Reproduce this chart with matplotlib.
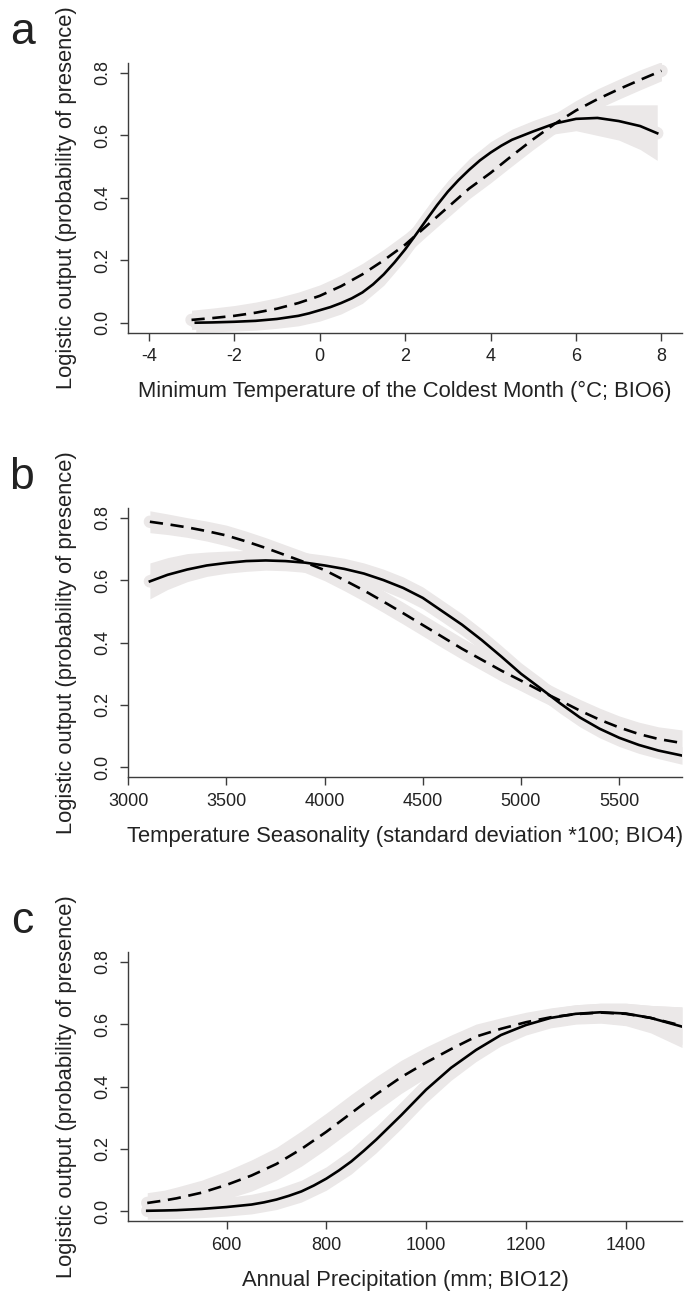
import matplotlib
matplotlib.use("Agg")
import matplotlib.pyplot as plt

plt.rcParams["font.family"] = ["Liberation Sans", "DejaVu Sans"]

# --------------------- DATA ---------------------

ylabel = "Logistic output (probability of presence)"
yticks = [0.0, 0.2, 0.4, 0.6, 0.8]
ytick_labels = ["0.0", "0.2", "0.4", "0.6", "0.8"]

# panel a : BIO6
a_xlabel = "Minimum Temperature of the Coldest Month (°C; BIO6)"
a_xticks = [-4, -2, 0, 2, 4, 6, 8]
a_x_solid = [-2.9, -2.5, -2, -1.5, -1, -0.5, -0.25, 0, 0.25, 0.5, 0.75, 1, 1.25,
             1.5, 1.75, 2, 2.25, 2.5, 2.75, 3, 3.25, 3.5, 3.75, 4, 4.25, 4.5,
             5, 5.5, 6, 6.5, 7, 7.5, 7.9]
a_y_solid = [0.0, 0.001, 0.003, 0.006, 0.012, 0.022, 0.03, 0.04, 0.05, 0.063,
             0.078, 0.097, 0.123, 0.155, 0.193, 0.235, 0.282, 0.33, 0.377, 0.42,
             0.457, 0.49, 0.52, 0.545, 0.567, 0.586, 0.613, 0.638, 0.653, 0.656,
             0.646, 0.63, 0.607]
a_x_dash = [-3, -2.5, -2, -1.5, -1, -0.5, 0, 0.5, 1, 1.5, 2, 2.5, 3, 3.5,
            4, 4.5, 5, 5.5, 6, 6.5, 7, 7.5, 8]
a_y_dash = [0.009, 0.015, 0.022, 0.032, 0.045, 0.063, 0.086, 0.117, 0.155, 0.2,
            0.25, 0.31, 0.37, 0.43, 0.48, 0.535, 0.588, 0.637, 0.68, 0.716,
            0.748, 0.778, 0.807]
a_band_x_solid = [-2.9, -2.5, -2, -1.5, -1, -0.5, 0, 0.5, 1, 1.5, 2, 2.5, 3,
                  3.5, 4, 4.5, 5, 5.5, 6, 6.5, 7, 7.5, 7.9]
a_lo_solid = [-0.03, -0.029, -0.027, -0.024, -0.018, -0.01, 0.005, 0.028, 0.062,
              0.12, 0.2, 0.295, 0.385, 0.455, 0.51, 0.55, 0.58, 0.605, 0.615,
              0.6, 0.585, 0.555, 0.52]
a_hi_solid = [0.03, 0.031, 0.033, 0.038, 0.045, 0.057, 0.077, 0.1, 0.134, 0.192,
              0.272, 0.365, 0.455, 0.525, 0.58, 0.62, 0.648, 0.672, 0.685, 0.695,
              0.698, 0.698, 0.698]
a_lo_dash = [-0.022, -0.017, -0.01, 0.0, 0.012, 0.03, 0.052, 0.083, 0.12, 0.165,
             0.215, 0.277, 0.337, 0.397, 0.448, 0.502, 0.555, 0.605, 0.648,
             0.685, 0.716, 0.746, 0.775]
a_hi_dash = [0.04, 0.047, 0.055, 0.066, 0.08, 0.098, 0.121, 0.152, 0.19, 0.235,
             0.285, 0.343, 0.403, 0.463, 0.512, 0.568, 0.62, 0.67, 0.712, 0.749,
             0.78, 0.81, 0.836]

# panel b : BIO4
b_xlabel = "Temperature Seasonality (standard deviation *100; BIO4)"
b_xticks = [3000, 3500, 4000, 4500, 5000, 5500]
b_x = [3110, 3200, 3300, 3400, 3500, 3600, 3700, 3800, 3900, 4000, 4100, 4200,
       4300, 4400, 4500, 4600, 4700, 4800, 4900, 5000, 5100, 5200, 5300, 5400,
       5500, 5600, 5700, 5820]
b_y_solid = [0.596, 0.617, 0.634, 0.647, 0.655, 0.661, 0.663, 0.661, 0.656,
             0.647, 0.636, 0.621, 0.6, 0.575, 0.543, 0.5, 0.457, 0.408, 0.355,
             0.3, 0.253, 0.205, 0.16, 0.124, 0.095, 0.072, 0.054, 0.038]
b_lo_solid = [0.54, 0.57, 0.595, 0.612, 0.622, 0.628, 0.632, 0.63, 0.625, 0.615,
              0.603, 0.588, 0.566, 0.54, 0.508, 0.466, 0.423, 0.374, 0.321,
              0.267, 0.22, 0.173, 0.13, 0.095, 0.067, 0.045, 0.028, 0.01]
b_hi_solid = [0.655, 0.672, 0.685, 0.69, 0.693, 0.695, 0.695, 0.693, 0.688,
              0.68, 0.67, 0.655, 0.635, 0.61, 0.578, 0.535, 0.492, 0.443, 0.39,
              0.335, 0.288, 0.238, 0.19, 0.153, 0.123, 0.1, 0.082, 0.066]
b_y_dash = [0.787, 0.779, 0.769, 0.757, 0.743, 0.724, 0.703, 0.68, 0.657,
            0.632, 0.6, 0.567, 0.531, 0.494, 0.456, 0.418, 0.38, 0.345, 0.31,
            0.278, 0.245, 0.214, 0.182, 0.153, 0.128, 0.107, 0.091, 0.078]
b_lo_dash = [0.752, 0.746, 0.737, 0.725, 0.71, 0.692, 0.67, 0.647, 0.624, 0.598,
             0.566, 0.532, 0.496, 0.459, 0.421, 0.383, 0.346, 0.311, 0.276,
             0.245, 0.213, 0.183, 0.151, 0.12, 0.093, 0.07, 0.052, 0.036]
b_hi_dash = [0.822, 0.812, 0.8, 0.789, 0.776, 0.757, 0.736, 0.713, 0.69, 0.666,
             0.634, 0.602, 0.566, 0.529, 0.491, 0.453, 0.415, 0.38, 0.345,
             0.312, 0.28, 0.248, 0.218, 0.19, 0.165, 0.145, 0.13, 0.12]

# panel c : BIO12
c_xlabel = "Annual Precipitation (mm; BIO12)"
c_xticks = [600, 800, 1000, 1200, 1400]
c_x = [441, 475, 500, 550, 600, 650, 700, 750, 800, 850, 900, 950, 1000, 1050,
       1100, 1150, 1200, 1250, 1300, 1350, 1400, 1450, 1513]
c_x_solid = [441, 475, 500, 550, 600, 650, 675, 700, 725, 750, 775, 800, 825,
             850, 875, 900, 950, 1000, 1050, 1100, 1150, 1200, 1250, 1300, 1350,
             1400, 1450, 1513]
c_y_solid = [0.002, 0.003, 0.004, 0.008, 0.014, 0.022, 0.029, 0.038, 0.05,
             0.064, 0.083, 0.105, 0.131, 0.16, 0.194, 0.23, 0.308, 0.39, 0.46,
             0.517, 0.565, 0.597, 0.62, 0.633, 0.638, 0.634, 0.62, 0.592]
c_lo_solid = [-0.025, -0.024, -0.023, -0.02, -0.015, -0.008, 0.006, 0.03, 0.068,
              0.12, 0.188, 0.265, 0.348, 0.42, 0.48, 0.53, 0.565, 0.588, 0.6,
              0.603, 0.595, 0.572, 0.525]
c_hi_solid = [0.03, 0.031, 0.032, 0.037, 0.045, 0.055, 0.072, 0.1, 0.143, 0.2,
              0.272, 0.352, 0.433, 0.502, 0.555, 0.6, 0.628, 0.65, 0.662, 0.667,
              0.667, 0.66, 0.655]
c_y_dash = [0.027, 0.035, 0.042, 0.06, 0.085, 0.115, 0.152, 0.2, 0.255, 0.315,
            0.375, 0.43, 0.477, 0.52, 0.56, 0.585, 0.606, 0.622, 0.632, 0.637,
            0.633, 0.62, 0.595]
c_lo_dash = [-0.003, 0.003, 0.008, 0.02, 0.04, 0.065, 0.1, 0.145, 0.2, 0.26,
             0.32, 0.378, 0.428, 0.475, 0.518, 0.55, 0.575, 0.592, 0.602, 0.605,
             0.598, 0.582, 0.535]
c_hi_dash = [0.06, 0.068, 0.078, 0.1, 0.13, 0.165, 0.205, 0.258, 0.315, 0.375,
             0.432, 0.484, 0.527, 0.565, 0.6, 0.62, 0.638, 0.652, 0.662, 0.667,
             0.667, 0.66, 0.655]

# --------------------- PLOT ---------------------

BAND = "#ebe8e8"
AXC = "#3c3c3c"
TXT = "#222222"
W, H = 686, 1295

fig = plt.figure(figsize=(W / 100, H / 100), dpi=100)


def panel(top, letter, solid, dash, bands, xlim, xticks, xlabel):
    left, right, bottom = 128.3, 682, top + 269.7
    ax = fig.add_axes([left / W, 1 - bottom / H, (right - left) / W, 269.7 / H])

    # grey confidence bands, drawn first
    for bx, lo, hi in bands:
        ax.fill_between(bx, lo, hi, color=BAND, lw=0)
    for x, y in (solid, dash):
        ax.plot(x, y, color=BAND, lw=9, solid_capstyle="round")

    ax.plot(solid[0], solid[1], color="black", lw=1.9)
    ax.plot(dash[0], dash[1], color="black", lw=1.9, dashes=(5.0, 2.9))

    ax.set_xlim(*xlim)
    ax.set_ylim(-0.032, 0.832)
    ax.set_xticks(xticks)
    ax.set_xticklabels([str(t) for t in xticks])
    ax.set_yticks(yticks)
    ax.set_yticklabels(ytick_labels, va="center")

    for s in ("top", "right"):
        ax.spines[s].set_visible(False)
    for s in ("left", "bottom"):
        ax.spines[s].set_color(AXC)
        ax.spines[s].set_linewidth(1.0)

    ax.tick_params(direction="out", length=6.1, width=1.0, color=AXC,
                   labelsize=13, labelcolor=TXT)
    ax.tick_params(axis="x", pad=5)
    ax.tick_params(axis="y", pad=6.3, labelrotation=90)

    ax.set_xlabel(xlabel, fontsize=15.8, color=TXT, va="center")
    ax.xaxis.set_label_coords(0.5, -0.218)
    ax.set_ylabel(ylabel, fontsize=15.8, color=TXT, va="center")
    ax.yaxis.set_label_coords(-0.111, 0.5)

    fig.text(22 / W, 1 - (top - 18.5) / H, letter, fontsize=32, color=TXT,
             ha="center", va="baseline")
    return ax


panel(63, "a",
      (a_x_solid, a_y_solid), (a_x_dash, a_y_dash),
      [(a_band_x_solid, a_lo_solid, a_hi_solid), (a_x_dash, a_lo_dash, a_hi_dash)],
      (-4.48, 8.48), a_xticks, a_xlabel)

panel(507.7, "b",
      (b_x, b_y_solid), (b_x, b_y_dash),
      [(b_x, b_lo_solid, b_hi_solid), (b_x, b_lo_dash, b_hi_dash)],
      (3000, 5820), b_xticks, b_xlabel)

panel(951.7, "c",
      (c_x_solid, c_y_solid), (c_x, c_y_dash),
      [(c_x, c_lo_solid, c_hi_solid), (c_x, c_lo_dash, c_hi_dash)],
      (403, 1513), c_xticks, c_xlabel)

fig.savefig("out.png", dpi=100)
